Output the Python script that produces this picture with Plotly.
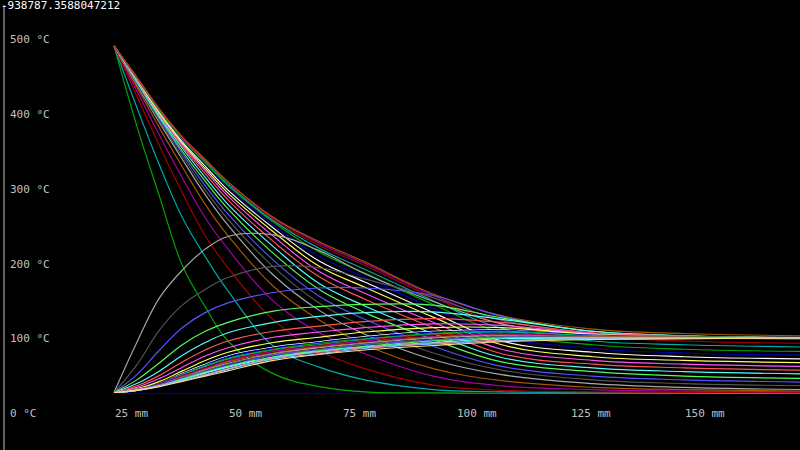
import plotly.graph_objects as go

# ---- data ----
x_mm = [25, 30, 35, 40, 45, 50, 60, 70, 80, 95, 110, 130, 150, 176]

baseline = [27, 27, 27, 27, 27, 27, 27, 27, 27, 27, 27, 27, 27, 27]

# family A: curves falling from ~490 °C at 25 mm
A0 = [492, 385, 290, 198, 143, 97, 53, 36, 29, 27.5, 27, 27, 27, 27]
A1 = [492, 410, 332, 262, 210, 164, 90, 62, 45, 32, 29, 28, 27.5, 27]
A2 = [492, 425, 358, 295, 238, 195, 125, 84, 60, 38, 31, 29, 28, 28]
A3 = [492, 432, 372, 315, 262, 220, 150, 108, 80, 50, 37, 32, 30, 29]
A4 = [492, 437, 382, 330, 280, 238, 170, 125, 92, 60, 44, 35, 32, 30]
A5 = [492, 440, 389, 340, 293, 252, 185, 138, 106, 72, 52, 40, 35, 32]
A6 = [492, 441, 391, 344, 299, 260, 196, 148, 116, 81, 58, 45, 40, 37]
A7 = [492, 443, 394, 348, 305, 267, 205, 157, 126, 90, 63, 50, 45, 42]
A8 = [492, 444, 396, 351, 311, 274, 214, 166, 135, 99, 69, 56, 50, 47]
A9 = [492, 445, 398, 355, 316, 280, 223, 174, 144, 107, 75, 61, 56, 53]
A10 = [492, 446, 400, 358, 321, 286, 230, 183, 153, 115, 80, 66, 61, 58]
A11 = [492, 447, 401, 360, 325, 291, 237, 190, 161, 122, 86, 71, 66, 63]
A12 = [492, 448, 402, 362, 328, 295, 243, 197, 169, 129, 92, 76, 71, 68]
A13 = [492, 448, 404, 364, 331, 299, 248, 204, 176, 135, 97, 82, 76, 73]
A14 = [492, 449, 405, 366, 334, 303, 252, 210, 182, 141, 103, 87, 81, 78]
A15 = [492, 449, 405, 367, 336, 305, 256, 216, 188, 146, 108, 92, 86, 83]
A16 = [492, 450, 406, 369, 338, 307, 258, 221, 193, 151, 114, 97, 92, 89]
A17 = [492, 450, 407, 369, 339, 309, 260, 225, 198, 155, 120, 103, 97, 94]
A18 = [492, 450, 407, 370, 340, 310, 262, 228, 201, 158, 125, 108, 102, 99]
A19 = [492, 450, 407, 370, 340, 310, 262, 230, 203, 160, 131, 113, 107, 104]

# family B: curves rising from ~28 °C at 25 mm
B0 = [28, 95, 155, 192, 220, 237, 239, 218, 187, 150, 120, 106, 103, 102]
B1 = [28, 65, 112, 145, 166, 182, 197, 195, 180, 155, 125, 107, 103, 101]
B2 = [28, 52, 85, 115, 135, 148, 162, 168, 168, 158, 130, 110, 104, 101]
B3 = [28, 45, 68, 92, 110, 122, 137, 143, 146, 145, 128, 110, 104, 101]
B4 = [28, 40, 57, 78, 95, 108, 122, 130, 135, 136, 126, 110, 104, 101]
B5 = [28, 37, 51, 69, 85, 97, 110, 117, 123, 127, 122, 108, 104, 101]
B6 = [28, 35, 47, 62, 77, 88, 102, 109, 115, 120, 118, 107, 103, 101]
B7 = [28, 33, 43, 57, 71, 82, 95, 102, 109, 115, 115, 106, 103, 101]
B8 = [28, 32, 40, 54, 66, 77, 89, 96, 103, 110, 112, 105, 103, 101]
B9 = [28, 32, 40, 53, 65, 76, 88, 95, 102, 109, 111, 105, 103, 101]
B10 = [28, 32, 39, 52, 64, 74, 86, 94, 100, 107, 110, 104, 103, 101]
B11 = [28, 32, 39, 52, 63, 73, 85, 92, 99, 106, 109, 104, 102, 101]
B12 = [28, 32, 39, 51, 61, 71, 84, 91, 98, 105, 107, 103, 102, 101]
B13 = [28, 32, 39, 50, 60, 70, 83, 90, 97, 103, 106, 103, 102, 101]
B14 = [28, 32, 38, 49, 59, 69, 81, 89, 95, 102, 105, 103, 102, 101]
B15 = [28, 32, 38, 48, 58, 67, 80, 88, 94, 101, 104, 102, 102, 101]
B16 = [28, 31, 38, 48, 57, 66, 79, 86, 93, 99, 103, 102, 101, 101]
B17 = [28, 31, 38, 47, 56, 64, 78, 85, 92, 98, 102, 101, 101, 101]
B18 = [28, 31, 37, 46, 55, 63, 76, 84, 90, 97, 101, 101, 101, 101]
B19 = [28, 31, 37, 45, 54, 62, 75, 83, 89, 95, 100, 101, 101, 101]
B20 = [28, 31, 37, 44, 52, 60, 74, 82, 88, 94, 98, 100, 101, 101]
B21 = [28, 31, 37, 44, 51, 59, 73, 80, 87, 93, 97, 100, 100, 101]
B22 = [28, 31, 36, 43, 50, 57, 71, 79, 85, 91, 96, 99, 100, 101]

family_a = [A0, A1, A2, A3, A4, A5, A6, A7, A8, A9, A10, A11, A12, A13,
            A14, A15, A16, A17, A18, A19]
family_b = [B0, B1, B2, B3, B4, B5, B6, B7, B8, B9, B10, B11, B12, B13,
            B14, B15, B16, B17, B18, B19, B20, B21, B22]

y_tick_values = [0, 100, 200, 300, 400, 500]
y_tick_labels = ["0 °C", "100 °C", "200 °C", "300 °C", "400 °C", "500 °C"]
x_tick_values = [25, 50, 75, 100, 125, 150]
x_tick_labels = ["25 mm", "50 mm", "75 mm", "100 mm", "125 mm", "150 mm"]
corner_text = "-938787.3588047212"

# ---- styles ----
EGA = ['#000000', '#0000AA', '#00AA00', '#00AAAA', '#AA0000', '#AA00AA',
       '#AA5500', '#AAAAAA', '#555555', '#5555FF', '#55FF55', '#55FFFF',
       '#FF5555', '#FF55FF', '#FFFF55', '#FFFFFF']
colors_a = [EGA[i] for i in [2, 3, 4, 5, 6, 7, 8, 9, 10, 11, 12, 13, 14, 15,
                             1, 2, 3, 4, 5, 6]]
colors_b = [EGA[i] for i in [7, 8, 9, 10, 11, 12, 13, 14, 15,
                             1, 2, 3, 4, 5, 6, 7, 8, 9, 10, 11]]
colors_b += ['#FF7D9E', '#7DBEFF', '#FFDF7D']

W, H = 800, 450
PX_PER_MM = 4.56
X_RANGE = [0, W / PX_PER_MM]
Y_RANGE = [-48.9, 553.5]
LW = 1.15

fig = go.Figure()

fig.add_trace(go.Scatter(x=x_mm, y=baseline, mode='lines',
                         line=dict(color=EGA[1], width=LW), hoverinfo='skip'))

for ys, c in zip(family_a, colors_a):
    fig.add_trace(go.Scatter(x=x_mm, y=ys, mode='lines',
                             line=dict(color=c, width=LW, shape='spline', smoothing=1.1),
                             hoverinfo='skip'))
for ys, c in zip(family_b, colors_b):
    fig.add_trace(go.Scatter(x=x_mm, y=ys, mode='lines',
                             line=dict(color=c, width=LW, shape='spline', smoothing=1.1),
                             hoverinfo='skip'))

font = dict(family="DejaVu Sans Mono, monospace", size=11, color="#C0C0C0")
annotations = []
for v, t in zip(y_tick_values, y_tick_labels):
    annotations.append(dict(x=8 / W, xref='paper', y=v, yref='y', text=t,
                            showarrow=False, xanchor='left', yanchor='middle',
                            font=font))
for v, t in zip(x_tick_values, x_tick_labels):
    annotations.append(dict(x=v, xref='x', y=0, yref='y', text=t,
                            showarrow=False, xanchor='left', yanchor='middle',
                            font=font, xshift=-1))
annotations.append(dict(x=0, xref='paper', y=1, yref='paper', text=corner_text,
                        showarrow=False, xanchor='left', yanchor='top', yshift=3,
                        xshift=-1,
                        font=dict(family="DejaVu Sans Mono, monospace", size=11,
                                  color="#FFFFFF")))

fig.update_layout(
    width=W, height=H,
    margin=dict(l=0, r=0, t=0, b=0, pad=0),
    paper_bgcolor='black', plot_bgcolor='black',
    showlegend=False,
    xaxis=dict(range=X_RANGE, visible=False, fixedrange=True),
    yaxis=dict(range=Y_RANGE, visible=False, fixedrange=True),
    annotations=annotations,
    shapes=[dict(type='line', xref='paper', yref='paper',
                 x0=4 / W, x1=4 / W, y0=0, y1=1 - 5 / H,
                 line=dict(color='#C0C0C0', width=1))],
)

fig.write_html(
    "out.html",
    config={"displayModeBar": False},
    post_script=("document.body.style.margin='0';"
                 "document.body.style.background='black';"
                 "document.documentElement.style.background='black';"
                 "document.body.style.overflow='hidden';"),
)
